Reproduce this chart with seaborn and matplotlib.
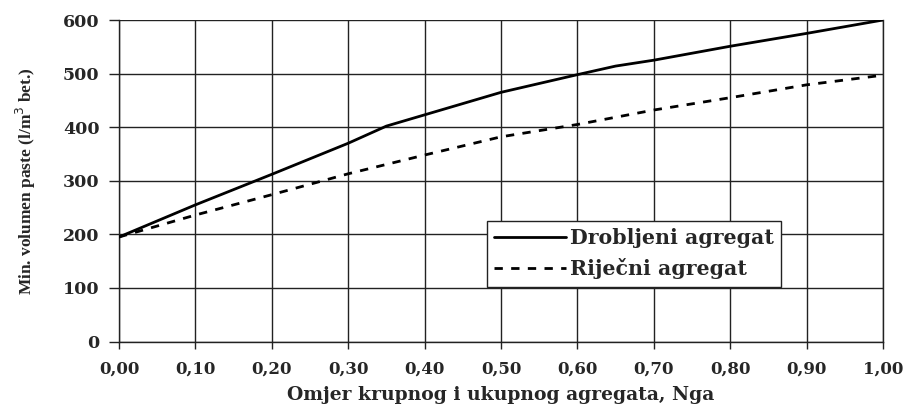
import matplotlib
matplotlib.use("Agg")
import matplotlib.pyplot as plt
import seaborn as sns
import pandas as pd
from matplotlib.lines import Line2D
from matplotlib.ticker import FuncFormatter, MultipleLocator

# Data
x_drob = [0.0, 0.1, 0.2, 0.3, 0.35, 0.4, 0.5, 0.6, 0.65, 0.7, 0.8, 0.9, 1.0]
y_drob = [195, 255, 312, 370, 402, 423, 465, 498, 514, 525, 551, 575, 600]
x_rij = [0.0, 0.1, 0.2, 0.3, 0.4, 0.5, 0.6, 0.7, 0.8, 0.9, 1.0]
y_rij = [195, 236, 274, 313, 348, 382, 405, 432, 455, 479, 497]
labels = ["Drobljeni agregat", "Riječni agregat"]

sns.set_theme(style="white")
plt.rcParams['font.family'] = ['DejaVu Serif', 'Liberation Serif']

fig = plt.figure(figsize=(9.08, 4.07), dpi=100)
ax = fig.add_axes([119/908, 1 - 341.5/407, (883-119)/908, (341.5-20)/407])

df1 = pd.DataFrame({"x": x_drob, "y": y_drob})
df2 = pd.DataFrame({"x": x_rij, "y": y_rij})
sns.lineplot(data=df1, x="x", y="y", ax=ax, color="black", linewidth=2.0, zorder=3)
sns.lineplot(data=df2, x="x", y="y", ax=ax, color="black", linewidth=2.0,
             linestyle=(0, (3, 3)), zorder=3)

ax.set_xlim(0, 1.0)
ax.set_ylim(0, 600)
ax.xaxis.set_major_locator(MultipleLocator(0.1))
ax.yaxis.set_major_locator(MultipleLocator(100))
ax.xaxis.set_major_formatter(FuncFormatter(lambda v, p: f"{v:.2f}".replace(".", ",")))
ax.yaxis.set_major_formatter(FuncFormatter(lambda v, p: f"{int(round(v))}"))
ax.grid(True, color="#222222", linewidth=1.0)
for s in ["left", "right", "bottom"]:
    ax.spines[s].set_visible(True)
    ax.spines[s].set_color("#222222")
    ax.spines[s].set_linewidth(1.0)
ax.spines["top"].set_visible(False)
ax.tick_params(axis="x", direction="out", length=5, width=1, color="#222222",
               bottom=True, pad=9, labelsize=12)
ax.tick_params(axis="y", direction="out", length=7, width=1, color="#222222",
               left=True, pad=7, labelsize=12.5)
for t in ax.get_xticklabels() + ax.get_yticklabels():
    t.set_fontweight("bold")

ax.set_xlabel("Omjer krupnog i ukupnog agregata, Nga", fontsize=13.5,
              fontweight="bold", va="baseline")
ax.xaxis.set_label_coords(0.5, (341.5 - 400) / 321.5)
ax.set_ylabel("Min. volumen paste (l/m$^3$ bet.)", fontsize=12.5,
              family=["Liberation Serif"], fontweight="bold", labelpad=18)

handles = [Line2D([], [], color="black", linewidth=2.0),
           Line2D([], [], color="black", linewidth=2.0, linestyle=(0, (3, 3)))]
leg = ax.legend(handles, labels, loc="upper left",
                bbox_to_anchor=((487-119)/764, (341.5-221)/321.5),
                borderaxespad=0,
                frameon=True, fancybox=False, framealpha=1, edgecolor="#222222",
                handlelength=3.5, handletextpad=0.2, borderpad=0.35,
                labelspacing=0.5, prop={"weight": "bold", "size": 14.8})
leg.get_frame().set_linewidth(1.0)

fig.savefig("out.png", dpi=100)
